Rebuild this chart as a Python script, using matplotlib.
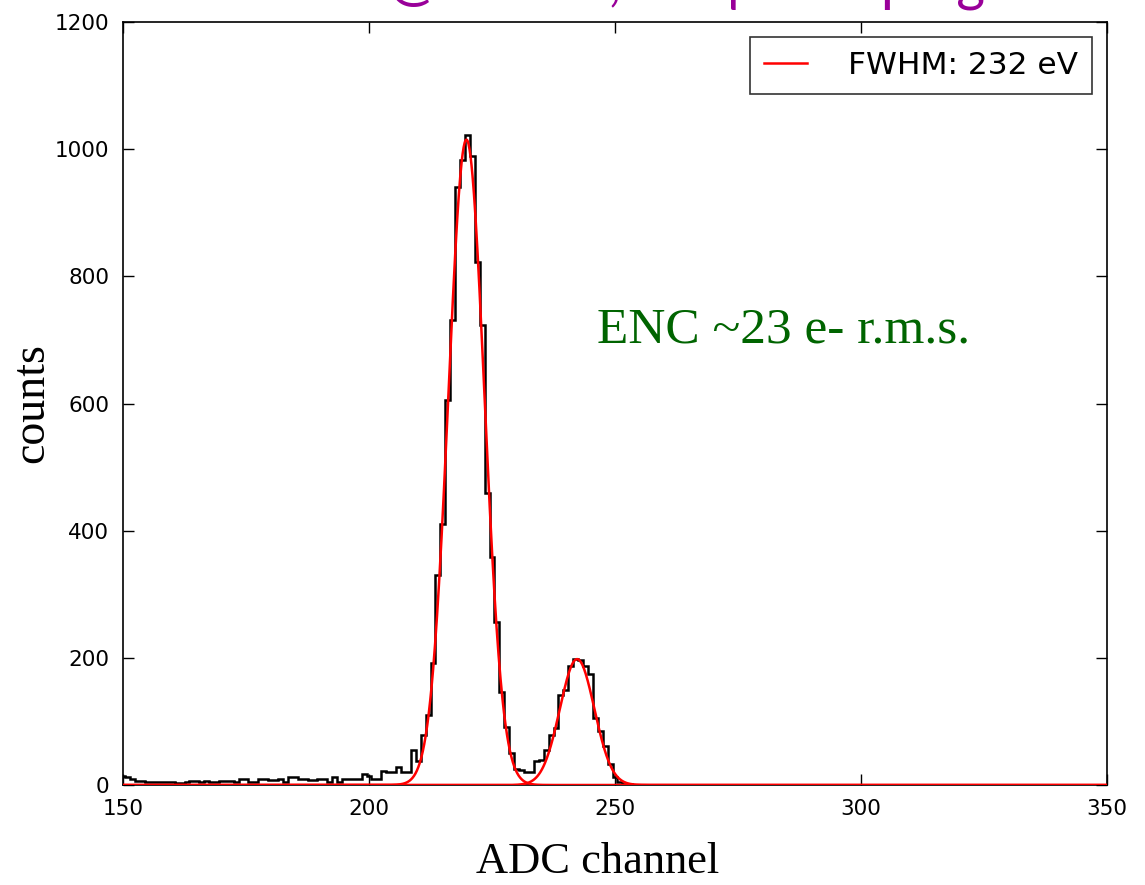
import numpy as np
import matplotlib
matplotlib.use("Agg")
import matplotlib.pyplot as plt

# Histogram of ADC channels (1 channel per bin), channels 150..253
first_channel = 150
counts = [
    14, 12, 10, 7, 6, 5, 4, 4, 5, 5,          # 150-159
    5, 3, 3, 5, 7, 7, 5, 7, 4, 4,             # 160-169
    7, 7, 7, 4, 10, 10, 4, 4, 10, 10,         # 170-179
    8, 8, 10, 4, 13, 13, 10, 10, 8, 8,        # 180-189
    10, 10, 5, 12, 5, 10, 10, 10, 10, 18,     # 190-199
    14, 9, 9, 22, 21, 21, 28, 21, 21, 55,     # 200-209
    37, 79, 110, 192, 330, 410, 605, 732, 941, 983,   # 210-219
    1023, 990, 823, 724, 459, 358, 257, 147, 91, 50,  # 220-229
    25, 23, 20, 20, 37, 39, 55, 79, 90, 142,  # 230-239
    150, 187, 198, 196, 187, 174, 105, 85, 61, 33,    # 240-249
    12, 5, 2, 1,                              # 250-253
]
last_channel = 349  # channels above 253 are empty

# Gaussian fit of the two lines
fit_amp = [1015, 198]
fit_mean = [219.8, 242.3]
fit_sigma = [3.65, 3.5]

legend_label = "FWHM: 232 eV"
note_text = "ENC ~23 e- r.m.s."
title_text = "Fe-55 @ -30 °C, 0.5 μs shaping"

x_limits = (150, 350)
y_limits = (0, 1200)
x_ticks = [150, 200, 250, 300, 350]
y_ticks = [0, 200, 400, 600, 800, 1000, 1200]

W, H = 1145, 885
fig = plt.figure(figsize=(W / 100, H / 100), dpi=100)
ax = fig.add_axes([123 / W, 1 - 785 / H, (1107 - 123) / W, (785 - 22) / H])

all_counts = np.concatenate([counts, np.zeros(last_channel - first_channel + 1 - len(counts))])
edges = np.arange(first_channel, last_channel + 2) - 0.5
ax.stairs(all_counts, edges, color="black", lw=1.8, zorder=3)

xf = np.linspace(x_limits[0], x_limits[1], 2000)
for i, (a, m, s) in enumerate(zip(fit_amp, fit_mean, fit_sigma)):
    ax.plot(xf, a * np.exp(-0.5 * ((xf - m) / s) ** 2), color="red", lw=1.8,
            zorder=4, label=legend_label if i == 0 else None)

ax.set_xlim(*x_limits)
ax.set_ylim(*y_limits)
ax.set_xticks(x_ticks)
ax.set_yticks(y_ticks)
ax.tick_params(direction="in", length=8, width=1, top=True, right=True,
               labelsize=15.5, pad=10)
for sp in ax.spines.values():
    sp.set_linewidth(1.2)

serif = ["Liberation Serif", "DejaVu Serif"]
fig.text(598 / W, 1 - 862 / H, "ADC channel", family=serif, fontsize=32,
         ha="center", va="center")
fig.text(32 / W, 1 - 403 / H, "counts", family=serif, fontsize=33,
         ha="center", va="center", rotation=90)
ax.text(0.4817, 0.596, note_text, transform=ax.transAxes, family=serif,
        fontsize=37, color="#006400", ha="left", va="center")

fig.text(0.53, 1.0, title_text, family=["Lato", "DejaVu Sans"],
         fontsize=40, color="#990099", ha="center", va="baseline")

leg = ax.legend(loc="upper right", bbox_to_anchor=(0.9848, 0.98),
                fontsize=22.5, frameon=True, fancybox=False,
                handlelength=1.4, handletextpad=1.3, borderpad=0.45,
                borderaxespad=0)
leg.get_frame().set_edgecolor("black")
leg.get_frame().set_linewidth(1.2)

fig.savefig("out.png", dpi=100, facecolor="white")
